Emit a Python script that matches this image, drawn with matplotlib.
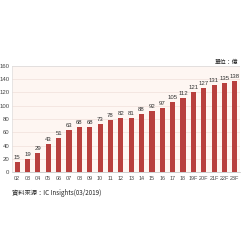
import numpy as np
import matplotlib.pyplot as plt

plt.rcParams['font.family'] = ['Liberation Sans', 'Noto Sans CJK TC', 'DejaVu Sans']

years = ['02', '03', '04', '05', '06', '07', '08', '09', '10', '11', '12',
         '13', '14', '15', '16', '17', '18', '19F', '20F', '21F', '22F', '23F']
values = [15, 19, 29, 43, 51, 63, 68, 68, 73, 78, 82,
          81, 88, 92, 97, 105, 112, 121, 127, 131, 135, 138]

fig = plt.figure(figsize=(2.42, 2.42), dpi=100)
ax = fig.add_axes([12 / 242, 70 / 242, 228 / 242, 106 / 242])
ax.set_facecolor('#fef6f2')

x = np.arange(len(years))
ax.bar(x, values, width=0.5, color='#b8403e', zorder=3)
for xi, v in zip(x, values):
    ax.text(xi, v + 3, str(v), ha='center', va='bottom', fontsize=4.3, color='#333333')

ax.set_xlim(-0.5, len(years) - 0.5)
ax.set_ylim(0, 160)
ax.set_yticks(range(0, 161, 20))
ax.set_xticks(x)
ax.set_xticklabels(years)
ax.tick_params(axis='both', length=0, labelsize=4.3, colors='#444444')
ax.tick_params(axis='x', pad=3, labelsize=3.9)
ax.tick_params(axis='y', pad=2)
ax.grid(axis='y', color='#f0e0da', linewidth=0.5, zorder=0)
for s in ['top', 'right', 'left']:
    ax.spines[s].set_visible(False)
ax.spines['bottom'].set_color('#bbbbbb')
ax.spines['bottom'].set_linewidth(0.5)
ax.axhline(160, color='#dddddd', linewidth=0.5)
ax.axvline(-0.5, color='#dddddd', linewidth=0.5)

fig.text(238 / 242, 1 - 62 / 242, '單位：億', ha='right', va='center', fontsize=4.2,
         color='#222222', family=['Noto Sans CJK TC'])
fig.text(12 / 242, 1 - 193 / 242, '資料來源：IC Insights(03/2019)', ha='left', va='center',
         fontsize=4.5, color='#222222', family=['Noto Sans CJK TC', 'Liberation Sans'])

fig.savefig('out.png', dpi=100, facecolor='white')
